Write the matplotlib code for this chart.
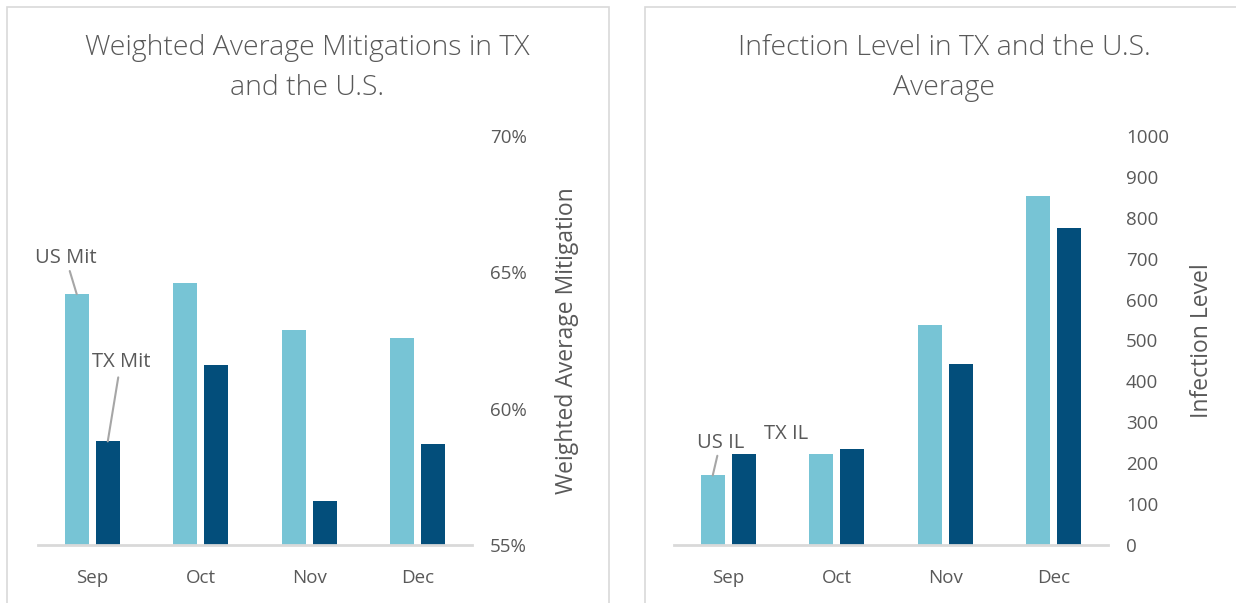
import matplotlib
matplotlib.use("Agg")
import matplotlib.pyplot as plt
from matplotlib.patches import Rectangle
import numpy as np

months = ["Sep", "Oct", "Nov", "Dec"]
us_mit = [64.2, 64.6, 62.9, 62.6]
tx_mit = [58.8, 61.6, 56.6, 58.7]
us_il = [170, 222, 538, 853]
tx_il = [222, 235, 442, 775]
mit_ticks = [55, 60, 65, 70]
il_ticks = [0, 100, 200, 300, 400, 500, 600, 700, 800, 900, 1000]

LIGHT = "#77C4D5"
DARK = "#034E7B"
TXT = "#595959"
GRID = "#D9D9D9"
FONT = ["Open Sans", "DejaVu Sans"]
plt.rcParams["font.family"] = FONT

W, H = 1236, 603
fig = plt.figure(figsize=(W / 100, H / 100), dpi=100)

def fx(px):
    return px / W

def fy(py):
    return 1 - py / H

# chart frames
fig.patches.append(Rectangle((fx(7), fy(640)), fx(602), fy(7) - fy(640), transform=fig.transFigure,
                             fill=False, edgecolor=GRID, lw=1.2))
fig.patches.append(Rectangle((fx(645), fy(640)), fx(640), fy(7) - fy(640), transform=fig.transFigure,
                             fill=False, edgecolor=GRID, lw=1.2))

def make_axes(x0, x1):
    return fig.add_axes([fx(x0), fy(545), fx(x1 - x0), fy(136) - fy(545)])

x = np.arange(len(months))
bw = 0.22
off = 0.143

def style(ax):
    for s in ["top", "left", "right"]:
        ax.spines[s].set_visible(False)
    ax.spines["bottom"].set_color(GRID)
    ax.spines["bottom"].set_linewidth(2)
    ax.yaxis.tick_right()
    ax.yaxis.set_label_position("right")
    ax.tick_params(axis="both", length=0, colors=TXT, labelsize=13.5)
    ax.tick_params(axis="x", pad=17)
    ax.tick_params(axis="y", pad=13)
    ax.set_xticks(x)
    ax.set_xticklabels(months)
    ax.set_xlim(-0.5, 3.5)
    ax.set_facecolor("none")

# Left chart
ax1 = make_axes(38, 472)
ax1.bar(x - off, [v - 55 for v in us_mit], bw, bottom=55, color=LIGHT)
ax1.bar(x + off, [v - 55 for v in tx_mit], bw, bottom=55, color=DARK)
ax1.set_ylim(55, 70)
ax1.set_yticks(mit_ticks)
ax1.set_yticklabels([f"{t}%" for t in mit_ticks])
style(ax1)
ax1.set_ylabel("Weighted Average Mitigation", fontsize=16.5, color=TXT, labelpad=20)
ax1.annotate("US Mit", xy=(x[0] - off, us_mit[0]), xytext=(x[0] - off - 0.1, us_mit[0] + 0.95),
             ha="center", va="bottom", fontsize=14.5, color=TXT,
             arrowprops=dict(arrowstyle="-", color="#A6A6A6", lw=1.5, shrinkA=0, shrinkB=0))
ax1.annotate("TX Mit", xy=(x[0] + off, tx_mit[0]), xytext=(x[0] + off + 0.12, 61.35),
             ha="center", va="bottom", fontsize=14.5, color=TXT,
             arrowprops=dict(arrowstyle="-", color="#A6A6A6", lw=1.5, shrinkA=2, shrinkB=0))
fig.text(fx(307), fy(68), "Weighted Average Mitigations in TX\nand the U.S.", ha="center", va="center",
         fontsize=20.5, color=TXT, linespacing=1.55, fontweight="light")

# Right chart
ax2 = make_axes(674, 1108)
ax2.bar(x - off, us_il, bw, color=LIGHT)
ax2.bar(x + off, tx_il, bw, color=DARK)
ax2.set_ylim(0, 1000)
ax2.set_yticks(il_ticks)
ax2.set_yticklabels([str(t) for t in il_ticks])
style(ax2)
ax2.set_ylabel("Infection Level", fontsize=16.5, color=TXT, labelpad=15)
ax2.annotate("US IL", xy=(x[0] - off, us_il[0]), xytext=(x[0] - off + 0.07, us_il[0] + 55),
             ha="center", va="bottom", fontsize=14.5, color=TXT,
             arrowprops=dict(arrowstyle="-", color="#A6A6A6", lw=1.5, shrinkA=0, shrinkB=0))
ax2.text(x[0] + 0.53, tx_il[0] + 25, "TX IL", ha="center", va="bottom", fontsize=14.5, color=TXT)
fig.text(fx(944), fy(68), "Infection Level in TX and the U.S.\nAverage", ha="center", va="center",
         fontsize=20.5, color=TXT, linespacing=1.55, fontweight="light")

fig.savefig("out.png", dpi=100)
